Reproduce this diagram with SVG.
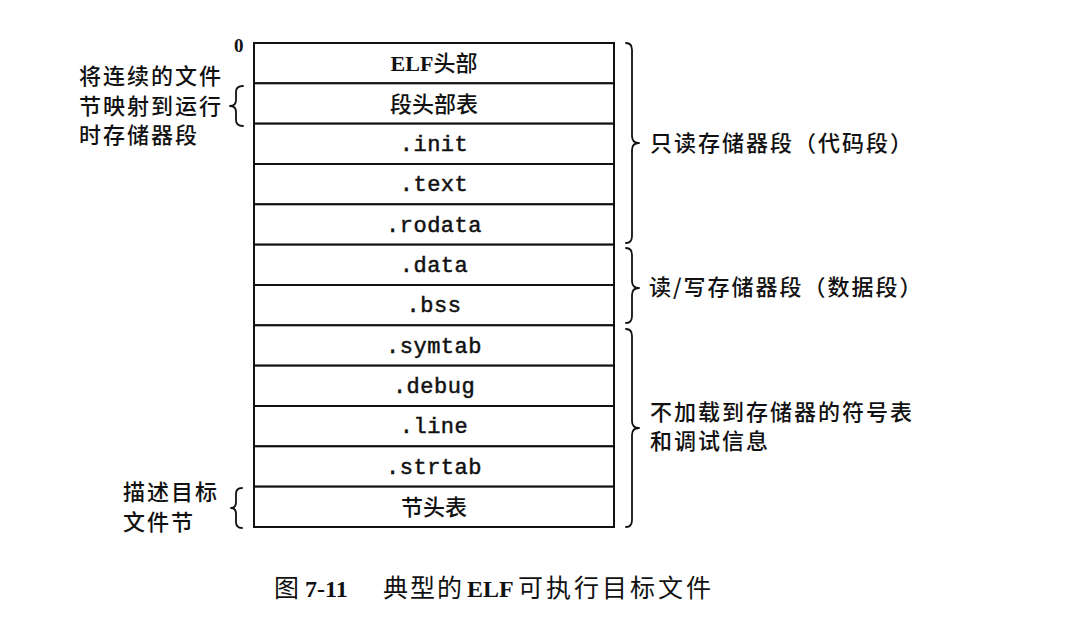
<svg xmlns="http://www.w3.org/2000/svg" width="1070" height="632" viewBox="0 0 1070 632">
<style>
.row rect{fill:#fff;stroke:#111;stroke-width:2}
.mono{font-family:"Liberation Mono","DejaVu Sans Mono",monospace;font-size:22px;letter-spacing:0.5px;fill:#111;stroke:#111;stroke-width:0.5;text-anchor:middle}
.cjk{font-family:"Noto Sans CJK SC","Noto Sans",sans-serif;font-size:22px;font-weight:500;fill:#111}
.cjkc{font-family:"Liberation Serif","Noto Sans CJK SC",serif;font-size:22px;fill:#111;text-anchor:middle}
.lbl{font-family:"Noto Sans CJK SC","Noto Sans",sans-serif;font-size:22px;font-weight:500;letter-spacing:2px;fill:#111}
.brace{fill:none;stroke:#111;stroke-width:1.8;stroke-linecap:round;stroke-linejoin:round}
.serifb{font-family:"Liberation Serif",serif;font-weight:bold;fill:#111}
.cap{font-family:"Noto Sans CJK SC","Noto Sans",sans-serif;font-size:25px;fill:#111}
</style>
<rect width="1070" height="632" fill="#fff"/>
<text class="serifb" x="234" y="52" font-size="19">0</text>
<g id="rows">
<g id="n-elf-header" class="row"><rect x="254" y="43" width="360" height="40.33"/><text class="cjkc" x="434" y="71"><tspan font-weight="bold">ELF</tspan><tspan font-family="Noto Sans CJK SC" font-weight="500">头部</tspan></text></g>
<g id="n-segment-header-table" class="row"><rect x="254" y="83.33" width="360" height="40.33"/><text class="cjk" x="434" y="111.5" text-anchor="middle">段头部表</text></g>
<g id="n-init" class="row"><rect x="254" y="123.67" width="360" height="40.33"/><text class="mono" x="434" y="151">.init</text></g>
<g id="n-text" class="row"><rect x="254" y="164" width="360" height="40.33"/><text class="mono" x="434" y="191">.text</text></g>
<g id="n-rodata" class="row"><rect x="254" y="204.33" width="360" height="40.33"/><text class="mono" x="434" y="231.5">.rodata</text></g>
<g id="n-data" class="row"><rect x="254" y="244.67" width="360" height="40.33"/><text class="mono" x="434" y="272">.data</text></g>
<g id="n-bss" class="row"><rect x="254" y="285" width="360" height="40.33"/><text class="mono" x="434" y="312">.bss</text></g>
<g id="n-symtab" class="row"><rect x="254" y="325.33" width="360" height="40.33"/><text class="mono" x="434" y="352.5">.symtab</text></g>
<g id="n-debug" class="row"><rect x="254" y="365.67" width="360" height="40.33"/><text class="mono" x="434" y="393">.debug</text></g>
<g id="n-line" class="row"><rect x="254" y="406" width="360" height="40.33"/><text class="mono" x="434" y="433">.line</text></g>
<g id="n-strtab" class="row"><rect x="254" y="446.33" width="360" height="40.33"/><text class="mono" x="434" y="473.5">.strtab</text></g>
<g id="n-section-header-table" class="row"><rect x="254" y="486.67" width="360" height="40.33"/><text class="cjk" x="434" y="515" text-anchor="middle">节头表</text></g>
</g>
<g id="connectors">
<path class="brace" d="M626,43 Q632,43 632,50 L632,136 Q632,143 639,143 Q632,143 632,150 L632,236 Q632,243 626,243"/>
<path class="brace" d="M626,248 Q632,248 632,255 L632,281 Q632,288 639,288 Q632,288 632,295 L632,316 Q632,323 626,323"/>
<path class="brace" d="M626,329 Q632,329 632,336 L632,421 Q632,428 639,428 Q632,428 632,435 L632,520 Q632,527 626,527"/>
<path class="brace" d="M243,86 Q236,86 236,92 L236,100 Q236,106 230,106 Q236,106 236,112 L236,120 Q236,126 243,126"/>
<path class="brace" d="M242,488 Q236,488 236,494 L236,502 Q236,508 231,508 Q236,508 236,514 L236,522 Q236,528 242,528"/>
</g>
<g id="left-label-1">
<text class="lbl" x="79" y="84">将连续的文件</text>
<text class="lbl" x="79" y="114">节映射到运行</text>
<text class="lbl" x="79" y="143">时存储器段</text>
</g>
<g id="left-label-2">
<text class="lbl" x="123" y="500">描述目标</text>
<text class="lbl" x="123" y="530">文件节</text>
</g>
<g id="right-label-1"><text class="lbl" x="650" y="151">只读存储器段（代码段）</text></g>
<g id="right-label-2"><text class="lbl" x="649" y="295">读/写存储器段（数据段）</text></g>
<g id="right-label-3">
<text class="lbl" x="650" y="420">不加载到存储器的符号表</text>
<text class="lbl" x="650" y="449">和调试信息</text>
</g>
<g id="caption">
<text class="cap" x="274" y="597">图</text>
<text class="serifb" x="305" y="597" font-size="24">7-11</text>
<text class="cap" x="383" y="597" letter-spacing="2">典型的</text>
<text class="serifb" x="467" y="597" font-size="24">ELF</text>
<text class="cap" x="518" y="597" letter-spacing="3">可执行目标文件</text>
</g>
</svg>
